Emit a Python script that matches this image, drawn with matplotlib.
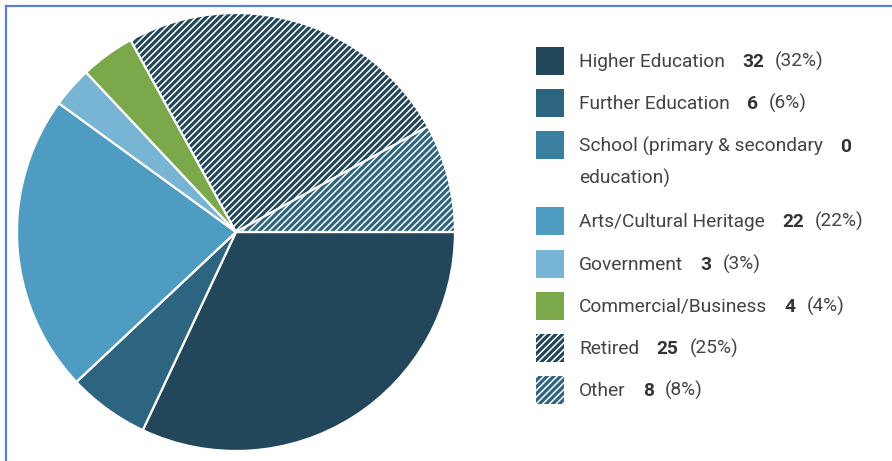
import matplotlib
matplotlib.use("Agg")
import matplotlib.pyplot as plt
from matplotlib.patches import Rectangle
from matplotlib.lines import Line2D

# Sector breakdown
categories = ["Higher Education", "Further Education", "School (primary & secondary",
              "Arts/Cultural Heritage", "Government", "Commercial/Business",
              "Retired", "Other"]
counts = [32, 6, 0, 22, 3, 4, 25, 8]
colors = ["#22475a", "#2d6581", "#3a7fa0", "#4f9cc2", "#78b4d3", "#7ba84a",
          "#22475a", "#2d6581"]
hatches = [None, None, None, None, None, None, "/////", "/////"]

plt.rcParams["font.family"] = ["Roboto", "DejaVu Sans"]
plt.rcParams["hatch.linewidth"] = 1.1

W, H = 892, 461
fig = plt.figure(figsize=(W / 100, H / 100), dpi=100)
fig.patch.set_facecolor("white")

# Pie area
cx, cy, r = 236, 232, 219
ax = fig.add_axes([(cx - r) / W, (H - cy - r) / H, 2 * r / W, 2 * r / H])
wedges, _ = ax.pie(counts, colors=colors, startangle=0, counterclock=False,
                   radius=1.0,
                   wedgeprops=dict(edgecolor="white", linewidth=1.6))
for w, h in zip(wedges, hatches):
    if h:
        w.set_hatch(h)
ax.set_xlim(-1.0, 1.0)
ax.set_ylim(-1.0, 1.0)
ax.axis("off")

# Legend
lax = fig.add_axes([0, 0, 1, 1])
lax.set_xlim(0, W)
lax.set_ylim(H, 0)
lax.axis("off")

total = sum(counts)
row_y = [61, 103, 145, 221, 263.5, 305.5, 347.5, 389.5]
sq = 28
fs = 13.8
txt_col = "#444444"
for i, (name, n, c, h) in enumerate(zip(categories, counts, colors, hatches)):
    y = row_y[i]
    lax.add_patch(Rectangle((536, y - sq / 2), sq, sq, facecolor=c,
                            edgecolor="white", linewidth=0.0, hatch=h))
    t1 = lax.text(579, y + 1, name, fontsize=fs, color=txt_col, va="center", ha="left")
    t2 = lax.annotate(f"{n}", xy=(1, 0), xycoords=t1, xytext=(12.5, 0),
                      textcoords="offset points", fontsize=fs, fontweight="bold",
                      color="#333333", va="bottom", ha="left")
    if n > 0:
        pct = round(100 * n / total)
        lax.annotate(f"({pct}%)", xy=(1, 0), xycoords=t2, xytext=(8, 0),
                     textcoords="offset points", fontsize=fs, color=txt_col,
                     va="bottom", ha="left")
    if name.startswith("School"):
        lax.text(579, y + 33, "education)", fontsize=fs, color=txt_col,
                 va="center", ha="left")

# Frame lines along the top and left edges
fig.add_artist(Line2D([6 / W, 6 / W], [-0.1, 1 - 6 / H], transform=fig.transFigure,
                      color="#5b80d8", linewidth=1.6))
fig.add_artist(Line2D([6 / W, 1.1], [1 - 6 / H, 1 - 6 / H], transform=fig.transFigure,
                      color="#5b80d8", linewidth=1.6))

fig.savefig("out.png", dpi=100, facecolor="white")
